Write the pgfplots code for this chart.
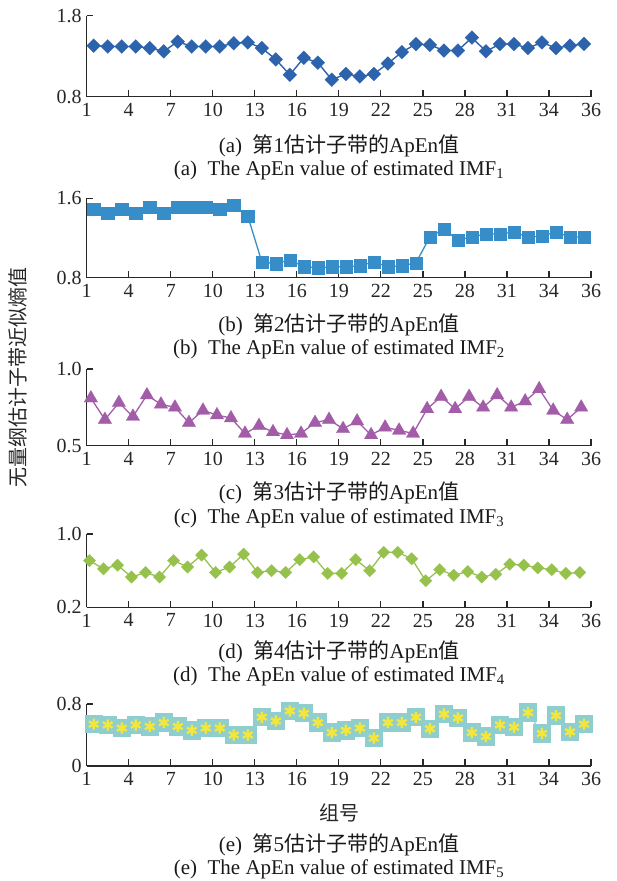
\documentclass[border=0pt]{standalone}
\usepackage{pgfplots}
\pgfplotsset{compat=1.18}
\usepackage{pgfplotstable}
\usepackage{fontspec}
\setmainfont{Liberation Serif}
\newfontfamily\cjk{Noto Sans CJK SC}

\definecolor{cA}{RGB}{44,99,172}
\definecolor{cB}{RGB}{55,141,199}
\definecolor{cC}{RGB}{162,92,168}
\definecolor{cD}{RGB}{150,194,76}
\definecolor{cE}{RGB}{142,206,206}
\definecolor{cEy}{RGB}{245,230,60}
\definecolor{axc}{RGB}{40,40,40}

\pgfplotstableread{
i a b c d e
1 1.43 1.49 0.81 0.71 0.54
2 1.42 1.45 0.67 0.62 0.53
3 1.42 1.49 0.78 0.66 0.49
4 1.42 1.45 0.69 0.53 0.53
5 1.40 1.51 0.83 0.58 0.51
6 1.36 1.45 0.77 0.53 0.56
7 1.48 1.51 0.75 0.71 0.51
8 1.42 1.51 0.65 0.64 0.46
9 1.42 1.51 0.73 0.77 0.49
10 1.42 1.49 0.70 0.58 0.49
11 1.46 1.53 0.68 0.64 0.40
12 1.47 1.42 0.58 0.78 0.40
13 1.40 0.96 0.63 0.58 0.63
14 1.26 0.94 0.59 0.60 0.58
15 1.07 0.98 0.57 0.58 0.71
16 1.28 0.91 0.58 0.72 0.68
17 1.22 0.90 0.65 0.75 0.56
18 1.01 0.91 0.67 0.57 0.43
19 1.08 0.91 0.61 0.57 0.46
20 1.05 0.92 0.66 0.72 0.49
21 1.08 0.96 0.57 0.60 0.36
22 1.21 0.91 0.62 0.80 0.56
23 1.35 0.92 0.60 0.80 0.56
24 1.45 0.95 0.58 0.73 0.63
25 1.44 1.21 0.74 0.49 0.48
26 1.37 1.29 0.82 0.61 0.67
27 1.37 1.18 0.74 0.55 0.62
28 1.53 1.21 0.82 0.59 0.43
29 1.36 1.24 0.75 0.53 0.38
30 1.45 1.24 0.83 0.56 0.53
31 1.45 1.26 0.75 0.67 0.50
32 1.40 1.21 0.79 0.66 0.69
33 1.47 1.22 0.87 0.63 0.42
34 1.40 1.26 0.73 0.61 0.65
35 1.43 1.21 0.67 0.57 0.44
36 1.45 1.21 0.75 0.58 0.54
}\datatable

\pgfplotsset{
  panel/.style={
    scale only axis, width=504.3pt, anchor=south west,
    xmin=0, xmax=36,
    axis x line*=bottom, axis y line*=left,
    xtick={0,3,...,36},
    xticklabels={1,4,7,10,13,16,19,22,25,28,31,34,36},
    tick align=inside, major tick length=6.5pt,
    axis line style={draw=axc, line width=1.2pt},
    every tick/.style={axc, line width=1.2pt},
    tick label style={font=\fontsize{20}{20}\selectfont, text=black!85},
    xticklabel style={yshift=-3pt},
    yticklabel style={xshift=-1.5pt},
    /pgf/number format/assume math mode=true,
    clip=false,
  }
}

\begin{document}
\begin{tikzpicture}[x=1pt,y=1pt]
\useasboundingbox (0,0) rectangle (616,881);

% (a)
\begin{axis}[panel, at={(86.7pt,784.3pt)}, height=81pt,
  ymin=0.8, ymax=1.8, ytick={0.8,1.8}, yticklabels={0.8,1.8}]
\addplot[cA, line width=1.4pt, mark=square*, mark size=4.9pt,
  mark options={rotate=45, fill=cA, draw=cA, line width=0.2pt}]
  table[x expr=\thisrow{i}-0.5, y=a] {\datatable};
\end{axis}

% (b)
\begin{axis}[panel, at={(86.7pt,603.3pt)}, height=79.4pt,
  ymin=0.8, ymax=1.6, ytick={0.8,1.6}, yticklabels={0.8,1.6}]
\addplot[cB, line width=1.3pt, mark=square*, mark size=6.2pt,
  mark options={fill=cB, draw=cB, line width=0.2pt}]
  table[x expr=\thisrow{i}-0.5, y=b] {\datatable};
\end{axis}

% (c)
\begin{axis}[panel, at={(86.7pt,435.3pt)}, height=76.7pt,
  ymin=0.5, ymax=1.0, ytick={0.5,1.0}, yticklabels={0.5,1.0}]
\addplot[cC, line width=1.3pt, mark=triangle*, mark size=7.8pt,
  mark options={fill=cC, draw=cC, line width=0.2pt}]
  table[x expr=\thisrow{i}-0.7, y=c] {\datatable};
\end{axis}

% (d)
\begin{axis}[panel, at={(86.7pt,273.7pt)}, height=73.3pt,
  ymin=0.2, ymax=1.0, ytick={0.2,1.0}, yticklabels={0.2,1.0}]
\addplot[cD, line width=1.3pt, mark=square*, mark size=4.4pt,
  mark options={rotate=45, fill=cD, draw=cD, line width=0.2pt}]
  table[x expr=\thisrow{i}-0.8, y=d] {\datatable};
\end{axis}

% (e)
\begin{axis}[panel, at={(86.7pt,115pt)}, height=62pt,
  ymin=0, ymax=0.8, ytick={0,0.8}, yticklabels={0,0.8}]
\addplot[cE, line width=1.2pt, mark=square*, mark size=8.6pt,
  mark options={fill=cE, draw=none}]
  table[x expr=\thisrow{i}-0.5, y=e] {\datatable};
\addplot[only marks, mark=asterisk, mark size=5.6pt,
  mark options={draw=cEy, line width=2.4pt}]
  table[x expr=\thisrow{i}-0.5, y=e] {\datatable};
\end{axis}

% y label
\node[rotate=90, font=\cjk\fontsize{20}{20}\selectfont, text=black!85] at (18,503) {无量纲估计子带近似熵值};

% captions
\tikzset{capt/.style={font=\fontsize{21}{24}\selectfont, text=black!90, inner sep=0pt}}
\node[capt] at (339,735) {(a)\ \ {\cjk 第}1{\cjk 估计子带的}ApEn{\cjk 值}};
\node[capt] at (339,711) {(a)\ \ The ApEn value of estimated IMF\textsubscript{1}};
\node[capt] at (339,556) {(b)\ \ {\cjk 第}2{\cjk 估计子带的}ApEn{\cjk 值}};
\node[capt] at (339,532) {(b)\ \ The ApEn value of estimated IMF\textsubscript{2}};
\node[capt] at (339,388) {(c)\ \ {\cjk 第}3{\cjk 估计子带的}ApEn{\cjk 值}};
\node[capt] at (339,363) {(c)\ \ The ApEn value of estimated IMF\textsubscript{3}};
\node[capt] at (339,229) {(d)\ \ {\cjk 第}4{\cjk 估计子带的}ApEn{\cjk 值}};
\node[capt] at (339,205) {(d)\ \ The ApEn value of estimated IMF\textsubscript{4}};
\node[font=\cjk\fontsize{20}{20}\selectfont, text=black!85] at (339,68) {组号};
\node[capt] at (339,36) {(e)\ \ {\cjk 第}5{\cjk 估计子带的}ApEn{\cjk 值}};
\node[capt] at (339,12) {(e)\ \ The ApEn value of estimated IMF\textsubscript{5}};
\end{tikzpicture}
\end{document}
